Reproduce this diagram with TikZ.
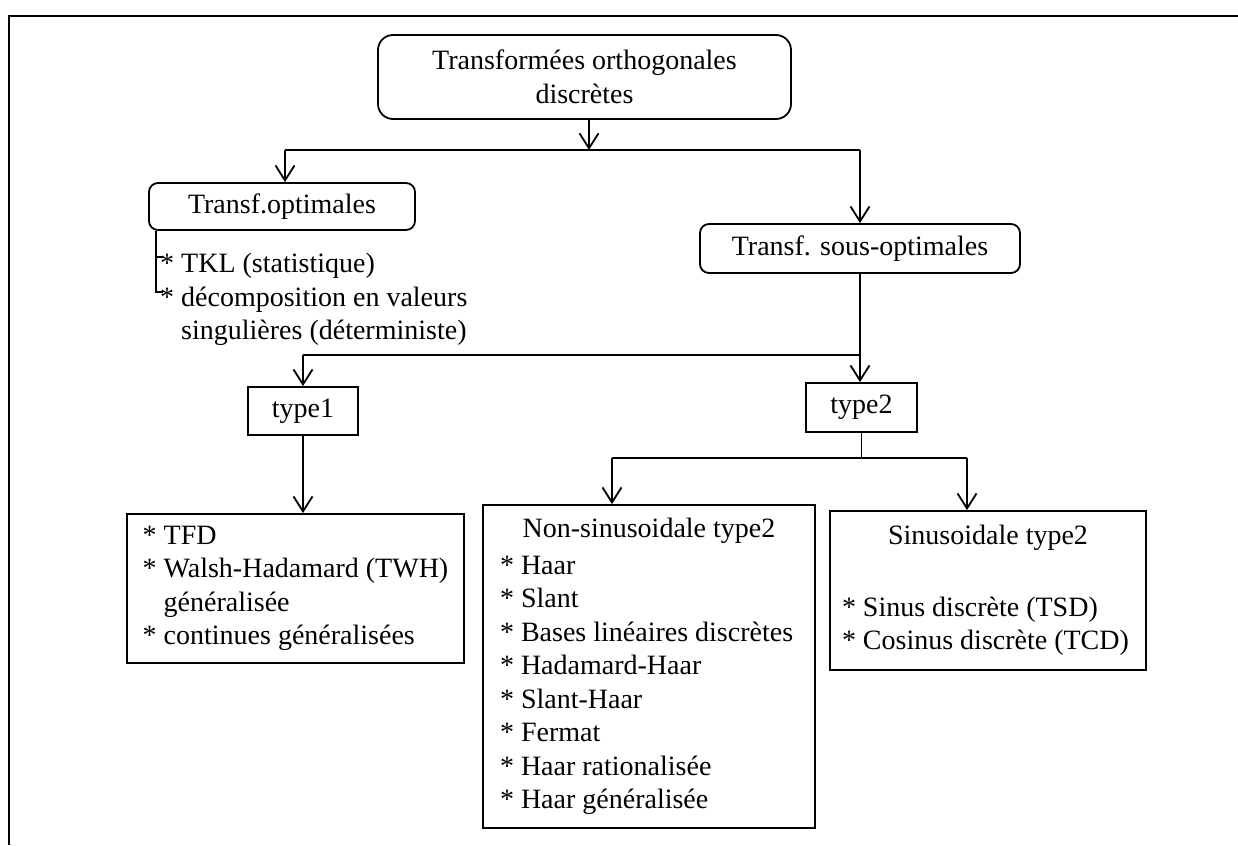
\documentclass[tikz,border=0pt]{standalone}
\usepackage{fontspec}
\setmainfont{Liberation Serif}
\usetikzlibrary{arrows.meta}
\newcommand{\nsline}[1]{\makebox[298pt][l]{#1}}
\newcommand{\sinline}[1]{\makebox[292pt][l]{#1}}
\begin{document}
\begin{tikzpicture}[x=1pt,y=-1pt,
  every node/.style={font=\fontsize{28}{33.5}\selectfont, inner sep=0pt},
  rbox/.style={draw, line width=1.8pt, rounded corners=9pt},
  sbox/.style={draw, line width=1.8pt},
  link/.style={line width=1.6pt},
  arr/.style={link, -{Straight Barb[length=15pt,width=19pt,line width=1.8pt]}},
]
\useasboundingbox (0,0) rectangle (1238,845);
% frame
\draw[line width=2pt] (1238,16) -- (9,16) -- (9,845);

% nodes
\node[rbox, rounded corners=15pt, minimum width=413pt, minimum height=84pt, align=center] (top) at (584.5,77) {Transformées orthogonales\\discrètes};
\node[rbox, minimum width=266pt, minimum height=47pt] (opt) at (282,206.5) {Transf.optimales};
\node[rbox, minimum width=320pt, minimum height=49pt] (sub) at (860,248.5) {Transf. sous-optimales};
\node[anchor=north west, align=left] (optl) at (160,253) {* TKL (statistique)\\{}* décomposition en valeurs\\\hphantom{* }singulières (déterministe)};
\node[sbox, minimum width=110pt, minimum height=48pt] (t1) at (303,411) {type1};
\node[sbox, minimum width=111pt, minimum height=49pt] (t2) at (861.5,407.5) {type2};
\node[sbox, minimum width=337pt, minimum height=149pt, align=left] (l1) at (295.5,588.5) {* TFD\\{}* Walsh-Hadamard (TWH)\\\hphantom{* }généralisée\\{}* continues généralisées};
\node[sbox, minimum width=332pt, minimum height=323pt, align=left] (ns) at (649,666.5) {\makebox[298pt][c]{Non-sinusoidale type2}\\[3.5pt]\nsline{* Haar}\\\nsline{* Slant}\\\nsline{* Bases linéaires discrètes}\\\nsline{* Hadamard-Haar}\\\nsline{* Slant-Haar}\\\nsline{* Fermat}\\\nsline{* Haar rationalisée}\\\nsline{* Haar généralisée}};
\node[sbox, minimum width=316pt, minimum height=159pt, align=left] (sin) at (988,590.5) {\makebox[292pt][c]{Sinusoidale type2}\\[38.5pt]\sinline{* Sinus discrète (TSD)}\\\sinline{* Cosinus discrète (TCD)}};

% connectors level 1
\coordinate (j1) at (589,150);
\coordinate (h1L) at (285,150);
\coordinate (h1R) at (860,150);
\draw[arr] (top.south -| j1) -- (j1);
\draw[link] (h1L) -- (h1R);
\draw[arr] (h1L) -- (h1L |- opt.north);
\draw[arr] (h1R) -- (sub.north);

% bracket under Transf.optimales
\coordinate (bx) at (156,0);
\coordinate (b1) at (163,257);
\coordinate (b2) at (163,292);
\draw[link] (opt.south -| bx) -- (bx |- b2) -- (b2);
\draw[link] (bx |- b1) -- (b1);

% level 2
\coordinate (h2L) at (303,355);
\coordinate (h2R) at (860,355);
\draw[arr] (sub.south) -- (sub.south |- t2.north);
\draw[link] (h2L) -- (h2R);
\draw[arr] (h2L) -- (t1.north);
\draw[arr] (t1.south) -- (t1.south |- l1.north);

% level 3
\coordinate (h3L) at (612,458);
\coordinate (h3R) at (967,458);
\draw[link] (t2.south) -- (t2.south |- h3L);
\draw[link] (h3L) -- (h3R);
\draw[arr] (h3L) -- (h3L |- ns.north);
\draw[arr] (h3R) -- (h3R |- sin.north);
\end{tikzpicture}
\end{document}
